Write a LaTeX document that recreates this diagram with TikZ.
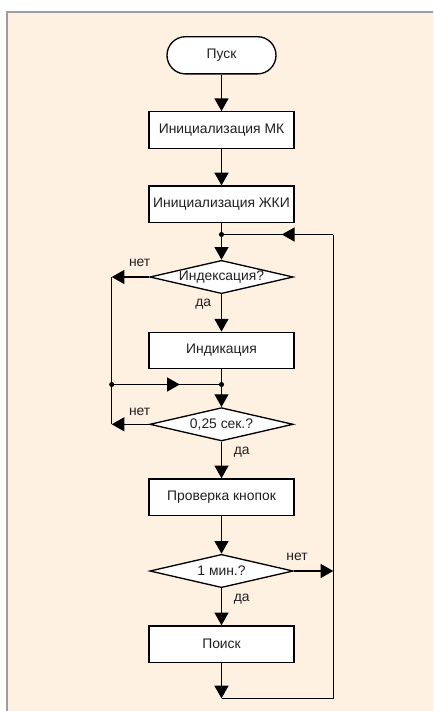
\documentclass[tikz,border=0pt]{standalone}
\usepackage{fontspec}
\setmainfont{Liberation Sans}
\usetikzlibrary{shapes.geometric,arrows.meta,decorations.markings}

\definecolor{cream}{HTML}{FEF1E1}
\definecolor{frame}{HTML}{9B9DA3}
\definecolor{ink}{HTML}{231F20}

\tikzset{
  arr/.style={-{Triangle[width=10.5pt,length=9.5pt]}},
  midarrow/.style={postaction={decorate},
    decoration={markings,mark=at position #1 with {\arrow{Triangle[width=10.5pt,length=9.5pt]}}}},
  term/.style={draw,fill=white,rounded corners=13.9pt,minimum width=81.75pt,minimum height=27.9pt,inner sep=0pt},
  stepbox/.style={draw,fill=white,minimum width=108.75pt,minimum height=27.4pt,inner sep=0pt},
  choice/.style={draw,fill=white,diamond,shape aspect=4.2,minimum width=107.5pt,minimum height=25pt,inner sep=0pt},
  lbl/.style={inner sep=0pt}
}

\begin{document}
\begin{tikzpicture}[x=0.75pt,y=-0.75pt,line width=1pt,font=\fontsize{10.4}{12}\selectfont,text=ink]
\useasboundingbox (0,0) rectangle (433,711);
\fill[cream] (8,12.3) rectangle (433,711);
\draw[frame,line width=1.6pt] (7.2,711) -- (7.2,12.3) -- (433,12.3);

% blocks
\node[term] (start) at (221.5,55.3) {Пуск};
\node[stepbox] (mk) at (221.5,130) {Инициализация МК};
\node[stepbox] (lcd) at (221.5,204.3) {Инициализация ЖКИ};
\node[choice] (idx) at (221.5,277) {Индексация?};
\node[stepbox] (show) at (221.5,350.5) {Индикация};
\node[choice] (tick) at (221.5,424.3) {0,25 сек.?};
\node[stepbox] (keys) at (221.5,497.2) {Проверка кнопок};
\node[choice] (minute) at (221.5,571) {1 мин.?};
\node[stepbox] (search) at (221.5,644.2) {Поиск};

% corners of the loops
\coordinate (j1) at (221.5,234.5);
\coordinate (j2) at (221.5,384.5);
\coordinate (j3) at (111.7,384.5);
\coordinate (l1) at (111.7,277);
\coordinate (l2) at (111.7,424.3);
\coordinate (r0) at (333.3,234.5);
\coordinate (r1) at (333.3,571);
\coordinate (b1) at (221.5,698.3);
\coordinate (b2) at (333.3,698.3);

% labels
\node[lbl] (no1) at (139.7,262.5) {нет};
\node[lbl] (yes1) at (203.3,304) {да};
\node[lbl] (no2) at (139.7,411.7) {нет};
\node[lbl] (yes2) at (241.7,451.7) {да};
\node[lbl] (no3) at (297,556.7) {нет};
\node[lbl] (yes3) at (241.7,599.5) {да};

% connectors
\draw[arr] (start) -- (mk);
\draw[arr] (mk) -- (lcd);
\draw (lcd) -- (j1);
\draw[arr] (j1) -- (idx);
\draw[arr] (idx) -- (show);
\draw (show) -- (j2);
\draw[arr] (j2) -- (tick);
\draw[arr] (idx.west) -- (l1);
\draw[arr] (tick.west) -- (l2);
\draw (l1) -- (l2);
\draw[midarrow=0.62] (j3) -- (j2);
\draw[arr] (tick) -- (keys);
\draw[arr] (keys) -- (minute);
\draw[arr] (minute.east) -- (r1);
\draw[arr] (minute) -- (search);
\draw[arr] (search) -- (b1);
\draw (b1) -- (b2) -- (r0);
\draw[midarrow=0.46] (r0) -- (j1);
\foreach \p in {j1,j2,j3}
  \fill (\p) circle (1.9pt);
\end{tikzpicture}
\end{document}
